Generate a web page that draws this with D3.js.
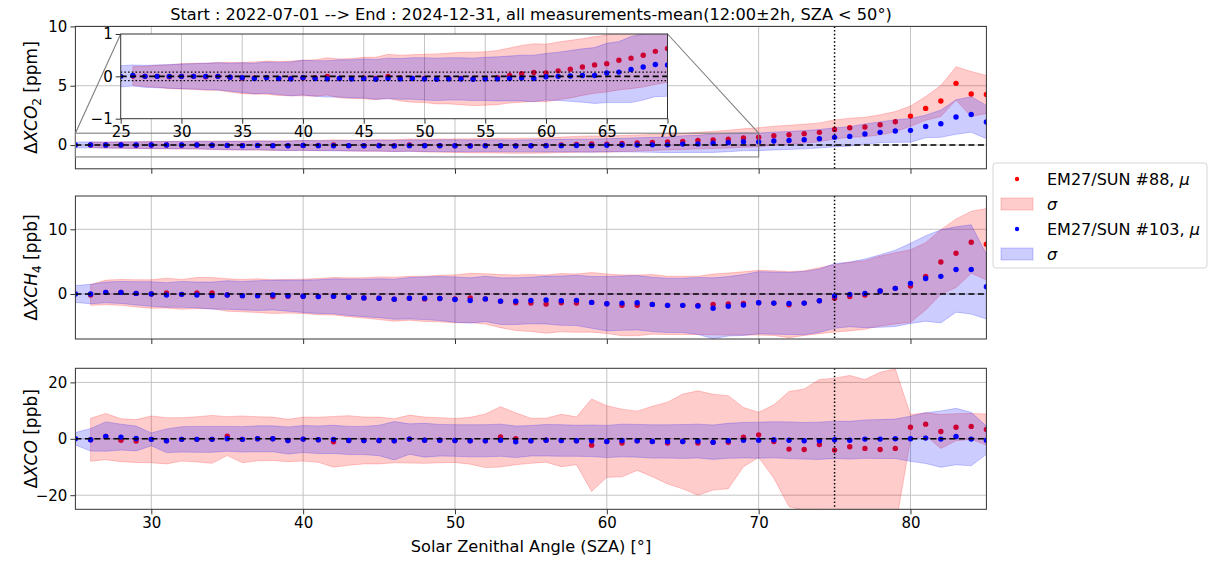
<!DOCTYPE html>
<html>
<head>
<meta charset="utf-8">
<script src="https://cdn.jsdelivr.net/npm/d3@7"></script>
<style>
  body { margin: 0; background: #fff; }
  text { font-family: "DejaVu Sans", sans-serif; fill: #000; }
</style>
</head>
<body>
<div id="chart"></div>
<script>
// solar zenith angle bins
const sza = [25, 26, 27, 28, 29, 30, 31, 32, 33, 34,
             35, 36, 37, 38, 39, 40, 41, 42, 43, 44,
             45, 46, 47, 48, 49, 50, 51, 52, 53, 54,
             55, 56, 57, 58, 59, 60, 61, 62, 63, 64,
             65, 66, 67, 68, 69, 70, 71, 72, 73, 74,
             75, 76, 77, 78, 79, 80, 81, 82, 83, 84,
             85];

// XCO2 [ppm]
const co2Mean88 = [null, 0.01, 0.00, 0.00, -0.01, 0.00, 0.00, -0.01, 0.00, -0.02,
  -0.04, -0.04, -0.03, -0.05, -0.05, -0.04, -0.04, 0.00, -0.05, -0.05,
  -0.04, -0.05, 0.00, -0.04, -0.05, -0.05, -0.06, -0.05, -0.05, -0.06,
  -0.05, -0.03, 0.02, 0.06, 0.09, 0.08, 0.13, 0.17, 0.22, 0.27,
  0.30, 0.38, 0.43, 0.50, 0.59, 0.66, 0.79, 0.87, 0.96, 1.07,
  1.32, 1.46, 1.52, 1.71, 1.97, 2.44, 3.09, 3.71, 5.20, 4.30,
  4.27];
const co2Sigma88 = [null, 0.22, 0.24, 0.26, 0.28, 0.30, 0.31, 0.32, 0.33, 0.35,
  0.37, 0.38, 0.39, 0.40, 0.41, 0.42, 0.43, 0.44, 0.46, 0.47,
  0.49, 0.50, 0.52, 0.54, 0.56, 0.57, 0.59, 0.60, 0.62, 0.63,
  0.63, 0.64, 0.65, 0.67, 0.68, 0.68, 0.68, 0.68, 0.67, 0.67,
  0.67, 0.70, 0.72, 0.75, 0.78, 0.80, 0.80, 0.80, 0.80, 0.80,
  0.80, 0.80, 0.82, 0.85, 0.85, 0.85, 1.00, 1.30, 1.40, 1.90,
  1.60];
const co2Mean103 = [0.00, 0.02, 0.00, 0.00, 0.00, 0.00, 0.00, 0.00, 0.00, -0.02,
  -0.03, -0.05, -0.03, -0.05, -0.06, -0.03, -0.05, -0.06, -0.05, -0.06,
  -0.05, -0.07, -0.05, -0.06, -0.05, -0.06, -0.07, -0.06, -0.06, -0.07,
  -0.06, -0.06, -0.05, -0.04, -0.05, -0.01, 0.00, 0.01, 0.02, 0.02,
  0.08, 0.10, 0.16, 0.22, 0.28, 0.27, 0.34, 0.39, 0.45, 0.53,
  0.65, 0.73, 0.93, 1.07, 1.18, 1.24, 1.57, 1.80, 2.36, 2.58,
  1.94];
const co2Sigma103 = [0.25, 0.25, 0.26, 0.27, 0.28, 0.29, 0.30, 0.31, 0.32, 0.33,
  0.35, 0.36, 0.37, 0.38, 0.40, 0.41, 0.42, 0.43, 0.44, 0.45,
  0.46, 0.47, 0.48, 0.48, 0.49, 0.50, 0.50, 0.50, 0.50, 0.50,
  0.51, 0.52, 0.53, 0.54, 0.55, 0.55, 0.57, 0.60, 0.63, 0.66,
  0.70, 0.72, 0.78, 0.78, 0.76, 0.74, 0.75, 0.76, 0.77, 0.78,
  0.80, 0.82, 0.85, 0.88, 0.95, 1.00, 0.95, 1.15, 1.45, 1.50,
  1.40];

// XCH4 [ppb]
const ch4Mean88 = [null, -0.15, 0.25, 0.25, 0.10, 0.00, 0.15, -0.05, 0.15, 0.15,
  -0.15, -0.25, -0.25, -0.40, -0.35, -0.35, -0.40, -0.35, -0.50, -0.60,
  -0.65, -0.80, -0.65, -0.75, -0.70, -0.75, -0.60, -0.75, -1.10, -1.35,
  -1.40, -1.55, -1.34, -1.40, -1.29, -1.50, -1.75, -1.75, -1.60, -1.75,
  -1.75, -1.75, -1.60, -1.55, -1.45, -1.34, -1.40, -1.65, -1.40, -1.03,
  -0.67, -0.40, -0.15, 0.46, 0.88, 1.24, 2.73, 4.95, 6.30, 8.00,
  7.70];
const ch4Sigma88 = [null, 1.6, 1.9, 2.0, 2.1, 2.2, 2.3, 2.3, 2.4, 2.4,
  2.5, 2.5, 2.6, 2.6, 2.6, 2.65, 2.8, 2.9, 3.0, 3.1,
  3.3, 3.4, 3.4, 3.5, 3.6, 3.7, 3.8, 3.9, 4.1, 4.3,
  4.4, 4.5, 4.5, 4.5, 4.6, 4.6, 4.7, 4.7, 4.6, 4.5,
  4.5, 4.5, 4.7, 4.8, 4.9, 5.0, 5.0, 5.1, 5.0, 5.1,
  5.2, 5.3, 5.3, 5.4, 5.5, 5.6, 5.2, 5.0, 5.3, 4.8,
  5.5];
const ch4Mean103 = [0.00, 0.00, 0.25, 0.25, 0.10, 0.00, -0.15, -0.05, -0.15, -0.25,
  -0.15, -0.25, -0.25, -0.15, -0.25, -0.35, -0.40, -0.35, -0.50, -0.60,
  -0.65, -0.80, -0.65, -0.65, -0.70, -0.85, -1.00, -0.75, -1.10, -1.10,
  -1.00, -0.93, -1.03, -0.98, -1.29, -1.50, -1.40, -1.34, -1.60, -1.75,
  -1.75, -1.85, -2.20, -1.90, -1.70, -1.34, -1.40, -1.45, -1.40, -1.03,
  -0.30, -0.05, 0.10, 0.46, 0.88, 1.65, 2.40, 2.73, 3.80, 3.80,
  1.13];
const ch4Sigma103 = [1.3, 1.5, 1.6, 1.7, 1.8, 1.9, 1.9, 2.0, 2.0, 2.1,
  2.2, 2.2, 2.3, 2.3, 2.4, 2.5, 2.6, 2.7, 2.8, 2.9,
  3.0, 3.1, 3.2, 3.3, 3.4, 3.5, 3.5, 3.5, 3.6, 3.6,
  3.6, 3.7, 3.8, 3.9, 4.0, 4.2, 4.2, 4.2, 4.2, 4.2,
  4.2, 4.4, 4.7, 4.6, 4.7, 4.8, 4.8, 4.8, 4.9, 4.9,
  5.0, 5.0, 5.3, 5.6, 5.9, 6.2, 6.6, 7.2, 6.6, 6.9,
  5.0];

// XCO [ppb]
const coMean88 = [null, -0.35, 0.8, -0.5, -0.8, -0.2, -0.7, -0.2, -0.2, -0.2,
  0.95, -0.2, 0.0, 0.0, -0.6, -0.1, -0.35, -1.06, -0.6, -0.6,
  -0.6, -0.7, -0.1, -0.5, -0.5, -0.6, -0.7, -0.7, 0.7, 0.0,
  -0.7, -0.5, -0.6, -0.7, -2.25, -0.95, -1.5, -0.7, -0.95, -1.5,
  -0.95, -1.5, -1.2, -1.2, 0.6, 1.4, -0.95, -3.66, -3.8, -2.0,
  -4.0, -2.84, -3.4, -3.8, -3.4, 4.1, 5.2, 2.6, 4.1, 4.4,
  3.3];
const coSigma88 = [null, 7.6, 8.2, 7.6, 7.6, 8.3, 8.2, 7.7, 8.0, 8.5,
  6.9, 8.3, 7.8, 7.7, 7.5, 7.8, 8.0, 9.0, 8.8, 8.3,
  8.3, 7.8, 8.5, 8.2, 8.0, 7.8, 8.3, 9.5, 10.7, 9.2,
  8.0, 7.8, 9.3, 8.5, 16.4, 12.7, 12.0, 10.5, 12.5, 14.5,
  16.8, 18.5, 17.0, 16.5, 10.5, 8.0, 13.0, 20.4, 21.5, 23.0,
  25.5, 25.3, 24.4, 27.4, 28.2, 4.5, 4.0, 6.0, 4.8, 4.6,
  5.5];
const coMean103 = [0.0, -0.35, 0.8, 0.6, 0.1, -0.2, -0.7, -0.2, -0.2, -0.2,
  0.0, -0.2, 0.0, 0.0, -0.6, -0.1, -0.35, -0.2, -0.6, -0.6,
  -0.6, -0.7, -0.1, -0.5, -0.5, -0.6, -0.7, -0.7, -0.5, -1.06,
  -0.7, -0.5, -0.6, -0.7, -0.7, -0.95, -0.6, -0.7, -0.95, -0.95,
  -0.95, -0.8, -1.2, -0.7, -0.5, -0.5, -0.35, -0.5, -0.7, -0.7,
  -0.35, -0.5, -0.1, -0.1, 0.0, 0.0, 0.25, -0.1, 0.8, -0.1,
  -0.5];
const coSigma103 = [2.2, 4.0, 5.2, 4.6, 4.4, 2.3, 4.2, 4.5, 4.6, 4.6,
  4.4, 4.5, 4.6, 4.6, 4.8, 4.8, 4.9, 5.0, 5.0, 5.0,
  5.4, 6.8, 5.4, 6.0, 5.6, 5.6, 5.7, 5.7, 5.7, 5.6,
  5.4, 5.6, 5.6, 5.5, 5.6, 5.7, 5.8, 5.8, 5.9, 5.9,
  6.0, 6.0, 6.1, 6.2, 6.3, 6.4, 6.4, 6.5, 6.5, 6.6,
  6.6, 6.7, 6.8, 6.9, 7.0, 8.0, 9.0, 10.0, 10.0, 9.5,
  5.0];

// ticks / labels
const xTicks = [30, 40, 50, 60, 70, 80];
const insetXTicks = [25, 30, 35, 40, 45, 50, 55, 60, 65, 70];
const legendLabels = ['EM27/SUN #88, ', 'EM27/SUN #103, '];
const titleText = 'Start : 2022-07-01 --> End : 2024-12-31, all measurements-mean(12:00\u00b12h, SZA < 50\u00b0)';

const width = 1210, height = 561;
const RED = '#ff0000', BLUE = '#0000ff';
const GRID = '#c4c4c4';

const svg = d3.select('#chart').append('svg')
              .attr('width', width)
              .attr('height', height);
const defs = svg.append('defs');

const x = d3.scaleLinear().domain([25, 85]).range([75.4, 986.4]);

const fmt = d => d < 0 ? '\u2212' + Math.abs(d) : String(d);

// build rows for a series
const rows = (m, s) => sza.map((v, i) => ({x: v, m: m[i], s: s[i]}));

let clipN = 0;
function drawPanel(g, xs, ys, opt) {
  const [x0, x1] = xs.range();
  const [yb, yt] = ys.range();
  const cid = 'clip' + (clipN++);
  defs.append('clipPath').attr('id', cid)
      .append('rect').attr('x', x0).attr('y', yt).attr('width', x1 - x0).attr('height', yb - yt);

  if (opt.bg) {
    g.append('rect').attr('x', x0).attr('y', yt).attr('width', x1 - x0).attr('height', yb - yt)
     .attr('fill', '#fff');
  }

  // grid
  g.append('g').selectAll('line').data(opt.gridX).join('line')
    .attr('x1', d => xs(d)).attr('x2', d => xs(d)).attr('y1', yt).attr('y2', yb)
    .attr('stroke', GRID).attr('stroke-width', 1);
  g.append('g').selectAll('line').data(opt.gridY).join('line')
    .attr('x1', x0).attr('x2', x1).attr('y1', d => ys(d)).attr('y2', d => ys(d))
    .attr('stroke', GRID).attr('stroke-width', 1);

  const plot = g.append('g').attr('clip-path', `url(#${cid})`);
  const area = d3.area()
                 .defined(d => d.m != null)
                 .x(d => xs(d.x))
                 .y0(d => ys(d.m - d.s))
                 .y1(d => ys(d.m + d.s));

  const series = [
    {data: rows(opt.m88, opt.s88), c: RED},
    {data: rows(opt.m103, opt.s103), c: BLUE}
  ];
  series.forEach(sr => {
    const dd = sr.data.filter(d => d.x >= xs.domain()[0] - 1 && d.x <= xs.domain()[1] + 1);
    plot.append('path').datum(dd).attr('d', area)
        .attr('fill', sr.c).attr('fill-opacity', 0.2)
        .attr('stroke', sr.c).attr('stroke-opacity', 0.2).attr('stroke-width', 1);
    plot.append('g').selectAll('circle').data(dd.filter(d => d.m != null)).join('circle')
        .attr('cx', d => xs(d.x)).attr('cy', d => ys(d.m)).attr('r', 2.7)
        .attr('fill', sr.c);
  });

  // zero line and SZA limit
  plot.append('line').attr('x1', x0).attr('x2', x1).attr('y1', ys(0)).attr('y2', ys(0))
      .attr('stroke', '#000').attr('stroke-width', 1.6).attr('stroke-dasharray', '6,3.5');
  if (opt.extra) opt.extra(plot);

  // axes
  const ax = g.append('g').attr('transform', `translate(0,${yb})`)
              .call(d3.axisBottom(xs).tickValues(opt.xTicks).tickSize(5).tickPadding(3)
                      .tickFormat(opt.xLabels ? fmt : ''));
  const ay = g.append('g').attr('transform', `translate(${x0},0)`)
              .call(d3.axisLeft(ys).tickValues(opt.yTicks).tickSize(5).tickPadding(3).tickFormat(fmt));
  [ax, ay].forEach(a => {
    a.select('.domain').remove();
    a.selectAll('text').style('font-size', '15px').style('font-family', '"DejaVu Sans", sans-serif').attr('fill', '#000');
    a.selectAll('line').attr('stroke', '#333');
  });

  g.append('rect').attr('x', x0).attr('y', yt).attr('width', x1 - x0).attr('height', yb - yt)
   .attr('fill', 'none').attr('stroke', '#333').attr('stroke-width', 1);
}

function yLabel(cx, cy, parts) {
  const t = svg.append('text').attr('transform', `translate(${cx},${cy}) rotate(-90)`)
               .attr('text-anchor', 'middle').style('font-size', '17px');
  parts.forEach(p => {
    const s = t.append('tspan').text(p.t);
    if (p.i) s.style('font-style', 'italic');
    if (p.sub) s.attr('dy', 4).style('font-size', '12px');
    if (p.up) s.attr('dy', -4);
  });
}

const vline75 = ys => plot => plot.append('line')
    .attr('x1', x(75)).attr('x2', x(75)).attr('y1', ys.range()[1]).attr('y2', ys.range()[0])
    .attr('stroke', '#000').attr('stroke-width', 1.5).attr('stroke-dasharray', '1.5,2.2');

// panel 1 : XCO2
const y1 = d3.scaleLinear().domain([-2, 10]).range([168.8, 26.4]);
const g1 = svg.append('g');
drawPanel(g1, x, y1, {m88: co2Mean88, s88: co2Sigma88, m103: co2Mean103, s103: co2Sigma103,
  gridX: xTicks, gridY: [0, 5, 10], xTicks: xTicks, yTicks: [0, 5, 10], xLabels: false,
  extra: vline75(y1)});

// panel 2 : XCH4
const y2 = d3.scaleLinear().domain([-6.95, 15.15]).range([339, 196]);
drawPanel(svg.append('g'), x, y2, {m88: ch4Mean88, s88: ch4Sigma88, m103: ch4Mean103, s103: ch4Sigma103,
  gridX: xTicks, gridY: [0, 10], xTicks: xTicks, yTicks: [0, 10], xLabels: false,
  extra: vline75(y2)});

// panel 3 : XCO
const y3 = d3.scaleLinear().domain([-25, 25]).range([509.3, 368.3]);
drawPanel(svg.append('g'), x, y3, {m88: coMean88, s88: coSigma88, m103: coMean103, s103: coSigma103,
  gridX: xTicks, gridY: [-20, 0, 20], xTicks: xTicks, yTicks: [-20, 0, 20], xLabels: true,
  extra: vline75(y3)});

// zoom inset in panel 1
const xi = d3.scaleLinear().domain([25, 70]).range([120.7, 667.5]);
const yi = d3.scaleLinear().domain([-1, 1]).range([118.7, 34]);
const ind = g1.append('g').attr('stroke', '#7f7f7f').attr('stroke-width', 1.1).attr('fill', 'none');
ind.append('rect').attr('x', x(25)).attr('y', y1(1)).attr('width', x(70) - x(25)).attr('height', y1(-1) - y1(1));
ind.append('line').attr('x1', xi(25)).attr('y1', yi(1)).attr('x2', x(25)).attr('y2', y1(1));
ind.append('line').attr('x1', xi(70)).attr('y1', yi(1)).attr('x2', x(70)).attr('y2', y1(1));

drawPanel(g1.append('g'), xi, yi, {m88: co2Mean88, s88: co2Sigma88, m103: co2Mean103, s103: co2Sigma103,
  bg: true, gridX: insetXTicks.slice(1, -1), gridY: [], xTicks: insetXTicks, yTicks: [-1, 0, 1], xLabels: true,
  extra: plot => {
    [0.1, -0.1].forEach(v => plot.append('line')
      .attr('x1', xi.range()[0]).attr('x2', xi.range()[1]).attr('y1', yi(v)).attr('y2', yi(v))
      .attr('stroke', '#000').attr('stroke-width', 1.4).attr('stroke-dasharray', '1.5,2.2'));
  }});

// axis labels
yLabel(37, 97.6, [{t: '\u0394'}, {t: 'XCO', i: true}, {t: '2', sub: true}, {t: ' [ppm]', up: true}]);
yLabel(37, 267.5, [{t: '\u0394'}, {t: 'XCH', i: true}, {t: '4', sub: true}, {t: ' [ppb]', up: true}]);
yLabel(37, 438.8, [{t: '\u0394'}, {t: 'XCO', i: true}, {t: ' [ppb]'}]);

svg.append('text').attr('x', 531).attr('y', 20).attr('text-anchor', 'middle')
   .style('font-size', '16.2px').text(titleText);
svg.append('text').attr('x', 531).attr('y', 552).attr('text-anchor', 'middle')
   .style('font-size', '16.2px').text('Solar Zenithal Angle (SZA) [\u00b0]');

// legend
const lg = svg.append('g').attr('transform', 'translate(993,163)');
lg.append('rect').attr('width', 214).attr('height', 105).attr('rx', 3)
  .attr('fill', '#fff').attr('fill-opacity', 0.8).attr('stroke', '#d6d6d6');
[RED, BLUE].forEach((c, i) => {
  const yy = 16 + i * 50;
  lg.append('circle').attr('cx', 24).attr('cy', yy).attr('r', 2.2).attr('fill', c);
  const t = lg.append('text').attr('x', 54).attr('y', yy + 6).style('font-size', '16px');
  t.append('tspan').text(legendLabels[i]);
  t.append('tspan').style('font-style', 'italic').text('\u03bc');
  lg.append('rect').attr('x', 8).attr('y', yy + 19).attr('width', 32).attr('height', 12)
    .attr('fill', c).attr('fill-opacity', 0.2).attr('stroke', c).attr('stroke-opacity', 0.2);
  lg.append('text').attr('x', 54).attr('y', yy + 31).style('font-size', '16px').style('font-style', 'italic').text('\u03c3');
});
</script>
</body>
</html>
